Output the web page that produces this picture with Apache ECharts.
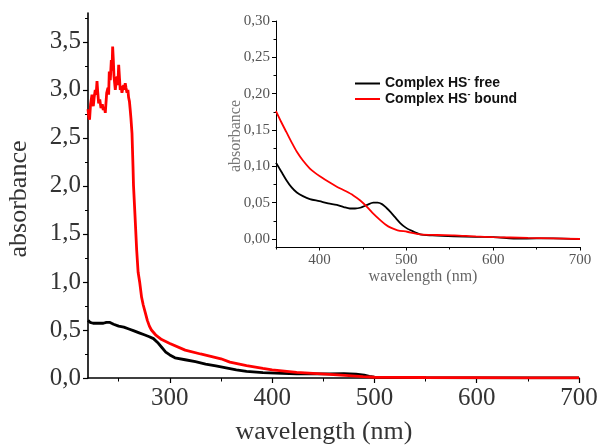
<!DOCTYPE html>
<html>
<head>
<meta charset="utf-8">
<script src="https://cdn.jsdelivr.net/npm/echarts@6/dist/echarts.min.js"></script>
<style>html,body{margin:0;padding:0;background:#fff}#c{width:604px;height:445px}</style>
</head>
<body>
<div id="c"></div>
<script>
// ---------- data ----------
const seriesNames = ['Complex HS- free', 'Complex HS- bound'];

// main panel: [wavelength nm, absorbance]
const mainFree = [[220,0.60],[222,0.58],[225,0.57],[230,0.57],[235,0.57],[238,0.58],[241,0.58],[245,0.56],[250,0.54],[255,0.53],[260,0.51],[265,0.49],[270,0.47],[275,0.45],[280,0.43],[284,0.41],[288,0.37],[292,0.32],[296,0.27],[300,0.24],[305,0.21],[315,0.19],[325,0.17],[335,0.145],[345,0.125],[355,0.105],[365,0.085],[375,0.07],[391,0.055],[410,0.048],[424,0.042],[440,0.042],[456,0.042],[470,0.044],[482,0.04],[490,0.03],[495,0.016],[500,0.008],[520,0.005],[550,0.003],[600,0.002],[700,0.001]];
const mainBound = [[220,2.80],[220.7,2.72],[221.5,2.69],[222.5,2.85],[223.9,2.95],[224.5,2.88],[225.2,2.83],[226,2.92],[227.1,3.0],[228,2.95],[228.8,3.09],[229.5,2.98],[230.4,2.86],[231.5,2.90],[232.7,2.81],[234,2.85],[234.9,2.79],[236,2.82],[236.9,2.76],[237.6,2.74],[238.3,2.97],[239.5,3.02],[240.2,2.95],[240.8,3.19],[241.8,3.10],[242.8,3.31],[243.5,3.20],[244.1,3.45],[244.8,3.30],[245.4,3.14],[246.7,3.0],[247.5,3.08],[248.3,3.14],[249.2,3.05],[250,3.26],[250.8,3.12],[251.5,3.0],[252.3,3.04],[253.2,2.97],[254.1,3.02],[254.9,3.05],[255.6,3.0],[256.4,3.07],[257.2,3.02],[258.1,2.97],[259,3.0],[259.7,2.92],[260.5,2.88],[261.3,2.79],[262,2.70],[263,2.55],[264,2.2],[264.5,2.0],[266,1.68],[267.6,1.33],[269,1.10],[270.5,1.0],[272.4,0.84],[274,0.76],[276,0.68],[278,0.6],[280,0.54],[282,0.50],[286,0.45],[292,0.40],[300,0.36],[315,0.29],[330,0.25],[350,0.20],[358.7,0.165],[375,0.13],[391,0.10],[400,0.085],[424,0.058],[456,0.038],[475,0.025],[489,0.014],[500,0.008],[550,0.005],[600,0.003],[650,0.002],[700,0.002]];

// inset panel
const insetFree = [[350,0.105],[356,0.093],[362,0.081],[368,0.071],[374,0.064],[381,0.059],[389,0.055],[400,0.052],[410,0.049],[420,0.047],[428,0.044],[435,0.042],[441,0.042],[447,0.043],[455,0.047],[462,0.050],[467,0.050],[472,0.048],[477,0.043],[482,0.037],[487,0.030],[493,0.022],[499,0.016],[505,0.012],[516,0.0064],[530,0.005],[555,0.0037],[580,0.003],[600,0.0027],[631,0.0005],[669,0.001],[700,0.0]];
const insetBound = [[350,0.176],[356,0.161],[362,0.147],[368,0.133],[374,0.120],[381,0.108],[389,0.097],[395,0.091],[401,0.086],[410,0.079],[420,0.072],[430,0.066],[439,0.060],[447,0.053],[455,0.044],[462,0.035],[470,0.026],[476,0.020],[482,0.0156],[490,0.012],[501,0.010],[516,0.0064],[535,0.0055],[555,0.005],[580,0.0035],[600,0.0027],[640,0.0015],[669,0.001],[700,0.0]];

// ticks
const mainXMajor = [300,400,500,600,700];
const mainXMinor = [250,350,450,550,650];
const mainYMajor = [0,0.5,1,1.5,2,2.5,3,3.5];
const mainYMinor = [0.25,0.75,1.25,1.75,2.25,2.75,3.25,3.75];
const insetXMajor = [400,500,600,700];
const insetXMinor = [350,450,550,650];
const insetYMajor = [0,0.05,0.10,0.15,0.20,0.25,0.30];
const insetYMinor = [0.025,0.075,0.125,0.175,0.225,0.275];

// ---------- chart ----------
const serif = "'Liberation Serif', 'DejaVu Serif', serif";
const sans = "'Liberation Sans', Arial, sans-serif";
const chart = echarts.init(document.getElementById('c'), null, {renderer:'canvas'});
const comma = (v, d) => v.toFixed(d).replace('.', ',');

function helperAxis(base, ticks, len) {
  return Object.assign({}, base, {
    axisLine:{show:false, onZero:false},
    axisLabel:{show:false},
    splitLine:{show:false},
    axisTick:{show:true, length:len, customValues:ticks, lineStyle:{color:'#000', width:1}}
  });
}

const mainX = {type:'value', gridIndex:0, min:220, max:700, position:'bottom'};
const mainY = {type:'value', gridIndex:0, min:0, max:3.8, position:'left'};
const insX = {type:'value', gridIndex:1, min:350, max:700, position:'bottom'};
const insY = {type:'value', gridIndex:1, min:-0.011, max:0.30, position:'left'};

const option = {
  animation:false,
  backgroundColor:'#fff',
  grid:[
    {left:88, top:13, right:25, bottom:67, containLabel:false},
    {left:276, top:21, right:24, bottom:198, containLabel:false}
  ],
  xAxis:[
    Object.assign({}, mainX, {
      axisLine:{show:true, onZero:false, lineStyle:{color:'#000', width:1.6}},
      axisTick:{show:true, length:5, customValues:mainXMajor, lineStyle:{color:'#000', width:1.2}},
      axisLabel:{customValues:mainXMajor, fontFamily:serif, fontSize:25, color:'#333', margin:8, formatter:v=>String(Math.round(v))},
      splitLine:{show:false}
    }),
    helperAxis(mainX, mainXMinor, 3.5),
    Object.assign({}, insX, {
      axisLine:{show:true, onZero:false, lineStyle:{color:'#000', width:1}},
      axisTick:{show:true, length:3.5, customValues:insetXMajor, lineStyle:{color:'#000', width:1}},
      axisLabel:{customValues:insetXMajor, fontFamily:serif, fontSize:15, color:'#555', margin:6, formatter:v=>String(Math.round(v))},
      splitLine:{show:false}
    }),
    helperAxis(insX, insetXMinor, 2.5)
  ],
  yAxis:[
    Object.assign({}, mainY, {
      axisLine:{show:true, onZero:false, lineStyle:{color:'#000', width:1.6}},
      axisTick:{show:true, length:5, customValues:mainYMajor, lineStyle:{color:'#000', width:1.2}},
      axisLabel:{customValues:mainYMajor, fontFamily:serif, fontSize:25, color:'#333', margin:7, formatter:v=>comma(v,1)},
      splitLine:{show:false}
    }),
    helperAxis(mainY, mainYMinor, 3),
    Object.assign({}, insY, {
      axisLine:{show:true, onZero:false, lineStyle:{color:'#000', width:1}},
      axisTick:{show:true, length:4, customValues:insetYMajor, lineStyle:{color:'#000', width:1}},
      axisLabel:{customValues:insetYMajor, fontFamily:serif, fontSize:15, color:'#555', margin:6, formatter:v=>comma(v,2)},
      splitLine:{show:false}
    }),
    helperAxis(insY, insetYMinor, 2.5)
  ],
  legend:{
    orient:'vertical', left:355, top:75, padding:0, itemWidth:25, itemHeight:2, itemGap:0,
    icon:'rect',
    data:seriesNames,
    textStyle:{fontFamily:sans, fontWeight:'bold', fontSize:14, color:'#111',
      rich:{sup:{fontFamily:sans, fontWeight:'bold', fontSize:9, color:'#111', padding:[0,0,8,0]}}},
    formatter: n => n.replace('HS-', 'HS{sup|-}')
  },
  graphic:[
    {type:'text', x:324, y:432, style:{text:'wavelength (nm)', font:"26px "+serif, fill:'#333', align:'center', verticalAlign:'middle'}},
    {type:'text', x:19, y:199, rotation:Math.PI/2, style:{text:'absorbance', font:"26px "+serif, fill:'#333', align:'center', verticalAlign:'middle'}},
    {type:'text', x:423, y:277, style:{text:'wavelength (nm)', font:"16px "+serif, fill:'#666', align:'center', verticalAlign:'middle'}},
    {type:'text', x:236, y:136, rotation:Math.PI/2, style:{text:'absorbance', font:"16px "+serif, fill:'#777', align:'center', verticalAlign:'middle'}}
  ],
  series:[
    {type:'line', name:seriesNames[0], xAxisIndex:0, yAxisIndex:0, data:mainFree, symbol:'none', lineStyle:{color:'#000', width:2.8}, itemStyle:{color:'#000'}},
    {type:'line', name:seriesNames[1], xAxisIndex:0, yAxisIndex:0, data:mainBound, symbol:'none', lineStyle:{color:'#ff0000', width:2.8}, itemStyle:{color:'#ff0000'}},
    {type:'line', name:seriesNames[0], xAxisIndex:2, yAxisIndex:2, data:insetFree, symbol:'none', smooth:0.3, lineStyle:{color:'#000', width:1.8}, itemStyle:{color:'#000'}},
    {type:'line', name:seriesNames[1], xAxisIndex:2, yAxisIndex:2, data:insetBound, symbol:'none', smooth:0.3, lineStyle:{color:'#ff0000', width:1.8}, itemStyle:{color:'#ff0000'}}
  ]
};
chart.setOption(option);
</script>
</body>
</html>
